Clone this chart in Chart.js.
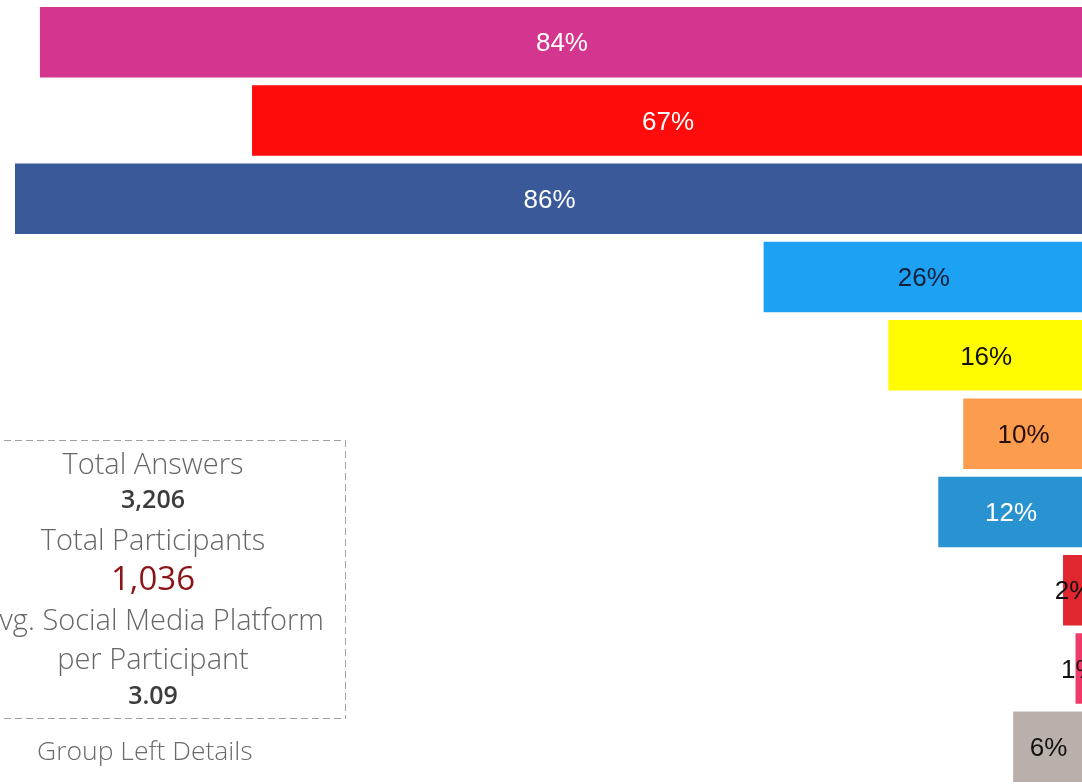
<!DOCTYPE html>
<html>
<head>
<meta charset="utf-8">
<script src="https://cdn.jsdelivr.net/npm/chart.js@4/dist/chart.umd.min.js"></script>
<style>
  html, body { margin: 0; padding: 0; background: #fff; overflow: hidden; width: 1082px; height: 784px; }
  #wrap { position: absolute; left: 0; top: 0; width: 1088px; height: 790px; }
  .summary {
    position: absolute; left: -40px; top: 440px; width: 386px; height: 279px;
    font-family: "Open Sans", "Noto Sans", sans-serif; text-align: center; color: #666;
    /* 长虚线边框 */
    background:
      repeating-linear-gradient(90deg, #a0a0a0 0 7px, transparent 7px 11px) top / 100% 1px no-repeat,
      repeating-linear-gradient(90deg, #a0a0a0 0 7px, transparent 7px 11px) bottom / 100% 1px no-repeat,
      repeating-linear-gradient(180deg, #a0a0a0 0 7px, transparent 7px 11px) right / 1px 100% no-repeat;
  }
  .summary div { position: absolute; left: 0; right: 0; white-space: nowrap; line-height: 1; }
  .lbl { font-size: 29px; font-weight: 300; }
  .num { font-size: 25px; font-weight: 600; color: #3c3c3c; }
  .big { font-size: 33px; font-weight: 400; color: #8b1416; }
  .group { position: absolute; left: 37px; top: 737px; font-family: "Open Sans", "Noto Sans", sans-serif;
    font-size: 26.5px; font-weight: 300; color: #6a6a6a; white-space: nowrap; line-height: 1; }
</style>
</head>
<body>
<div id="wrap"><canvas id="bars" width="1088" height="790"></canvas></div>
<div class="summary">
  <div class="lbl" style="top:8px">Total Answers</div>
  <div class="num" style="top:46px">3,206</div>
  <div class="lbl" style="top:84px">Total Participants</div>
  <div class="big" style="top:121px">1,036</div>
  <div class="lbl" style="top:164px">Avg. Social Media Platform</div>
  <div class="lbl" style="top:203px">per Participant</div>
  <div class="num" style="top:242px">3.09</div>
</div>
<div class="group">Group Left Details</div>
<script>
  // 平台占比数据
  const platforms = ['Instagram', 'YouTube', 'Facebook', 'Twitter', 'Snapchat', 'Reddit', 'LinkedIn', 'Pinterest', 'Tinder', 'Other'];
  const shares = [84, 67, 86, 26, 16, 10, 12, 2, 1, 6];
  const barColors = ['#d4358e', '#fe0b0b', '#3a5998', '#1da1f2', '#fffb00', '#fb9c4f', '#2992d0', '#e0262e', '#ee3a6a', '#bab0ab'];
  const labelColors = ['#fff', '#fff', '#fff', '#10203a', '#111', '#2a0f0a', '#fff', '#111', '#111', '#111'];

  // 在每根柱子中间写上百分比
  const centerLabels = {
    id: 'centerLabels',
    afterDatasetsDraw(chart) {
      const ctx = chart.ctx;
      const meta = chart.getDatasetMeta(0);
      ctx.save();
      ctx.font = '26px "Liberation Sans", Arial, sans-serif';
      ctx.textAlign = 'center';
      ctx.textBaseline = 'middle';
      meta.data.forEach((bar, i) => {
        const { x, base, y } = bar.getProps(['x', 'base', 'y'], true);
        ctx.fillStyle = labelColors[i];
        ctx.fillText(shares[i] + '%', (x + base) / 2 - 2, y + 2);
      });
      ctx.restore();
    }
  };

  new Chart(document.getElementById('bars'), {
    type: 'bar',
    data: {
      labels: platforms,
      datasets: [{
        data: shares,
        backgroundColor: barColors,
        borderWidth: 0,
        barPercentage: 0.9,
        categoryPercentage: 1
      }]
    },
    options: {
      indexAxis: 'y',
      responsive: false,
      animation: false,
      layout: { padding: { top: 3, bottom: 4, left: 0, right: 0 } },
      plugins: { legend: { display: false }, tooltip: { enabled: false } },
      scales: {
        x: { display: false, reverse: true, min: 0, max: 87.2 },
        y: { display: false }
      }
    },
    plugins: [centerLabels]
  });
</script>
</body>
</html>
